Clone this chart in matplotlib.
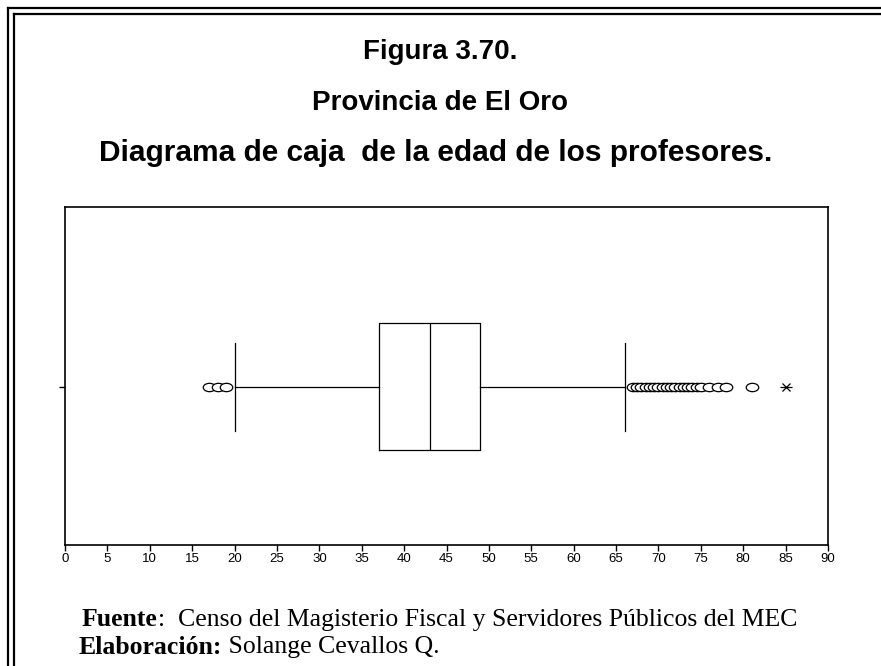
import matplotlib
matplotlib.use("Agg")
import matplotlib.pyplot as plt
from matplotlib.lines import Line2D
from matplotlib.path import Path
from matplotlib.transforms import Affine2D

# box plot summary (edad de los profesores)
q1 = 37
mediana = 43
q3 = 49
bigote_inf = 20
bigote_sup = 66
atipicos = [17, 18, 19, 67, 67.5, 68, 68.5, 69, 69.5, 70, 70.5, 71, 71.5, 72,
            72.5, 73, 73.5, 74, 74.5, 75, 76, 77, 78, 81]
extremos = [85]
ticks_x = list(range(0, 95, 5))


def main():
    plt.rcParams['font.family'] = ['Liberation Sans', 'DejaVu Sans']
    fig = plt.figure(figsize=(8.81, 6.66), dpi=100)

    # double frame on left and top
    W, H = 881.0, 666.0
    for off in (8, 14):
        fig.add_artist(Line2D([off / W, off / W], [0, 1 - off / H],
                              color='black', lw=1.6, transform=fig.transFigure))
        fig.add_artist(Line2D([off / W, 1], [1 - off / H, 1 - off / H],
                              color='black', lw=1.6, transform=fig.transFigure))

    fig.text(0.5, 1 - 52 / H, "Figura 3.70.", ha='center', va='center',
             fontsize=20, fontweight='bold')
    fig.text(0.5, 1 - 103 / H, "Provincia de El Oro", ha='center', va='center',
             fontsize=20, fontweight='bold')
    fig.text(0.495, 1 - 153 / H, "Diagrama de caja  de la edad de los profesores.",
             ha='center', va='center', fontsize=21.5, fontweight='bold')

    ax = fig.add_axes([65 / W, 1 - 545 / H, (828 - 65) / W, (545 - 207) / H])
    stats = [dict(med=mediana, q1=q1, q3=q3, whislo=bigote_inf,
                  whishi=bigote_sup, fliers=atipicos)]
    elipse = Path.unit_circle().transformed(Affine2D().scale(1.5, 1.0))
    ax.bxp(stats, positions=[0.468], widths=0.376, vert=False,
           capwidths=0.26,
           boxprops=dict(color='black', lw=0.9),
           medianprops=dict(color='black', lw=0.9),
           whiskerprops=dict(color='black', lw=0.9),
           capprops=dict(color='black', lw=0.9),
           flierprops=dict(marker=elipse, markersize=9, markerfacecolor='white',
                           markeredgecolor='black', markeredgewidth=0.9,
                           linestyle='none'))
    ax.plot(extremos, [0.468] * len(extremos), linestyle='none', marker='x',
            color='black', markersize=6, mew=0.9)
    ax.plot(extremos, [0.468] * len(extremos), linestyle='none', marker='_',
            color='black', markersize=9, mew=0.9)

    ax.set_xlim(0, 90)
    ax.set_ylim(0, 1)
    ax.set_xticks(ticks_x)
    ax.set_xticklabels([str(t) for t in ticks_x], fontsize=9.5)
    ax.set_yticks([0.468])
    ax.set_yticklabels([''])
    ax.tick_params(axis='both', direction='out', length=4, width=1, pad=2)
    for s in ax.spines.values():
        s.set_linewidth(1.2)

    # footer with bold labels
    fig.canvas.draw()
    r = fig.canvas.get_renderer()
    serif = ['Liberation Serif', 'DejaVu Serif']
    t1 = fig.text(82 / W, 1 - 620 / H, "Fuente", fontsize=18.5,
                  fontweight='bold', family=serif, va='center')
    bb = t1.get_window_extent(r)
    fig.text(bb.x1 / W, 1 - 620 / H, ":  Censo del Magisterio Fiscal y Servidores Públicos del MEC",
             fontsize=18.5, family=serif, va='center')
    t2 = fig.text(79 / W, 1 - 647 / H, "Elaboración:", fontsize=18.5,
                  fontweight='bold', family=serif, va='center')
    bb = t2.get_window_extent(r)
    fig.text(bb.x1 / W, 1 - 647 / H, " Solange Cevallos Q.",
             fontsize=18.5, family=serif, va='center')

    fig.savefig("out.png", dpi=100)


if __name__ == "__main__":
    main()
